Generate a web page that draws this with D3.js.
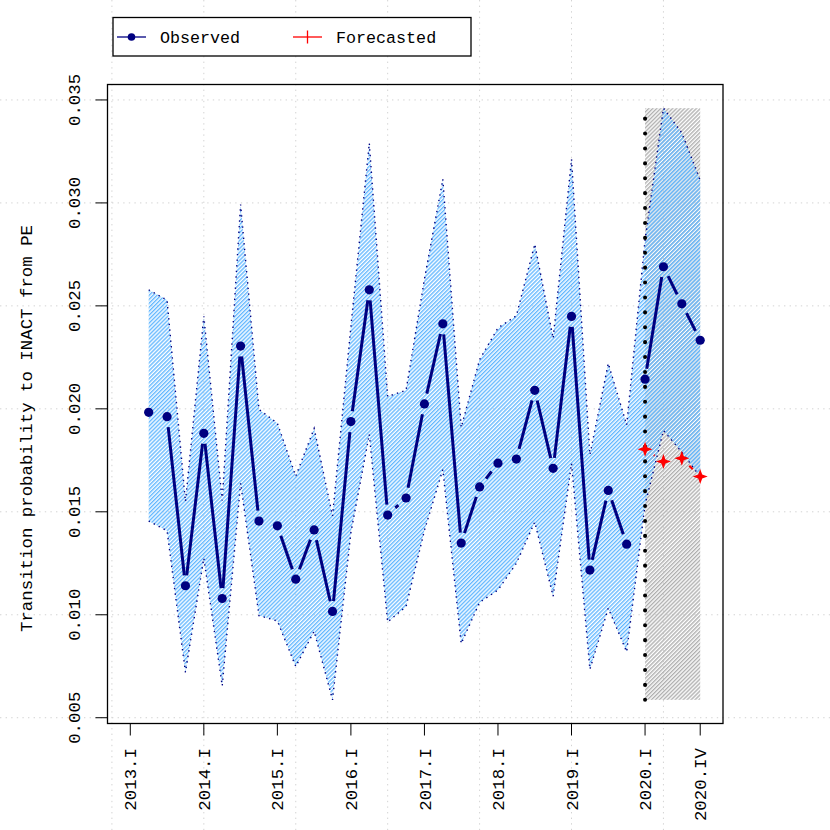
<!DOCTYPE html>
<html>
<head>
<meta charset="utf-8">
<script src="https://cdn.jsdelivr.net/npm/d3@7"></script>
<style>
  body { margin: 0; background: #fff; }
  text { font-family: "Liberation Mono", "Courier New", monospace; font-size: 17.4px; fill: #000; }
  .legend text { font-size: 16.7px; }
</style>
</head>
<body>
<div id="chart"></div>
<script>
// quarters (position = index + 1)
var quarters = ["2013.I","2013.II","2013.III","2013.IV",
                "2014.I","2014.II","2014.III","2014.IV",
                "2015.I","2015.II","2015.III","2015.IV",
                "2016.I","2016.II","2016.III","2016.IV",
                "2017.I","2017.II","2017.III","2017.IV",
                "2018.I","2018.II","2018.III","2018.IV",
                "2019.I","2019.II","2019.III","2019.IV",
                "2020.I","2020.II","2020.III","2020.IV"];
var tickLabels = ["2013.I","2014.I","2015.I","2016.I","2017.I","2018.I","2019.I","2020.I","2020.IV"];
var yTicks = [0.005, 0.010, 0.015, 0.020, 0.025, 0.030, 0.035];
var gridPos = [0, 5, 10, 15, 20, 25, 30];

// confidence band, 2013.II .. 2020.IV
var bandUpper = [0.02578, 0.02528, 0.01550, 0.02449, 0.01555, 0.02992, 0.01997, 0.01930,
                 0.01673, 0.01905, 0.01480, 0.02400, 0.03290, 0.02060, 0.02090, 0.02630,
                 0.03115, 0.01910, 0.02239, 0.02393, 0.02452, 0.02800, 0.02342, 0.03212,
                 0.01777, 0.02221, 0.01922, 0.02820, 0.03460, 0.03340, 0.03110];
var bandLower = [0.01455, 0.01408, 0.00720, 0.01275, 0.00655, 0.01639, 0.00996, 0.00970,
                 0.00749, 0.00920, 0.00587, 0.01400, 0.01876, 0.00965, 0.01040, 0.01410,
                 0.01705, 0.00860, 0.01060, 0.01120, 0.01250, 0.01450, 0.01090, 0.01735,
                 0.00735, 0.01032, 0.00820, 0.01534, 0.01895, 0.01790, 0.01670];

// observed 2013.II .. 2019.IV
var obsValues = [0.01983, 0.01962, 0.01141, 0.01881, 0.01079, 0.02305, 0.01455, 0.01432,
                 0.01173, 0.01412, 0.01016, 0.01938, 0.02578, 0.01484, 0.01567, 0.02024,
                 0.02413, 0.01348, 0.01621, 0.01736, 0.01756, 0.02090, 0.01711, 0.02449,
                 0.01217, 0.01604, 0.01343];
// observed 2020
var obs2020Values = [0.02144, 0.02690, 0.02510, 0.02333];
// forecasted 2020
var fcValues = [0.01804, 0.01744, 0.01760, 0.01671];
// forecast region limits
var fcRegion = [0.00587, 0.03460];

var width = 830, height = 830;
var box = {left: 107.5, right: 723, top: 84.5, bottom: 723.5};

var bandQ = quarters.slice(1);
var obsQ = quarters.slice(1, 28);
var q2020 = quarters.slice(28);

var svg = d3.select("#chart").append("svg")
    .attr("width", width).attr("height", height);

var x = d3.scaleLinear().domain([-0.24, 33.24]).range([box.left, box.right]);
var y = d3.scaleLinear().domain([0.00472, 0.03575]).range([box.bottom, box.top]);
function xq(q) { return x(quarters.indexOf(q) + 1); }

// hatch patterns
var defs = svg.append("defs");
function hatch(id, color) {
  var p = defs.append("pattern").attr("id", id)
      .attr("patternUnits", "userSpaceOnUse")
      .attr("width", 2.8).attr("height", 2.8)
      .attr("patternTransform", "rotate(45)");
  p.append("rect").attr("width", 1.4).attr("height", 2.8).attr("fill", color);
}
hatch("hatchBlue", "#63b8ff");
hatch("hatchGray", "#b0b0b0");

// grid over whole device
svg.append("g").selectAll("line").data(yTicks).enter().append("line")
   .attr("x1", 0).attr("x2", width)
   .attr("y1", function (d) { return y(d); }).attr("y2", function (d) { return y(d); })
   .attr("stroke", "#d3d3d3").attr("stroke-dasharray", "1.4,4.2");
svg.append("g").selectAll("line").data(gridPos).enter().append("line")
   .attr("y1", 0).attr("y2", height)
   .attr("x1", function (d) { return x(d); }).attr("x2", function (d) { return x(d); })
   .attr("stroke", "#d3d3d3").attr("stroke-dasharray", "1.4,4.2");

// forecast region
svg.append("rect")
   .attr("x", xq(q2020[0])).attr("y", y(fcRegion[1]))
   .attr("width", xq(q2020[3]) - xq(q2020[0]))
   .attr("height", y(fcRegion[0]) - y(fcRegion[1]))
   .attr("fill", "url(#hatchGray)");

// band
var area = d3.area()
    .x(function (d, i) { return xq(bandQ[i]); })
    .y0(function (d, i) { return y(bandLower[i]); })
    .y1(function (d, i) { return y(bandUpper[i]); });
svg.append("path").datum(bandQ).attr("d", area).attr("fill", "url(#hatchBlue)");

var bline = d3.line().x(function (d) { return xq(d[0]); }).y(function (d) { return y(d[1]); });
[bandUpper, bandLower].forEach(function (arr) {
  svg.append("path").datum(d3.zip(bandQ, arr)).attr("d", bline)
     .attr("fill", "none").attr("stroke", "#000080").attr("stroke-width", 1.4)
     .attr("stroke-dasharray", "1.4,4.2");
});

// start of forecast
svg.append("line")
   .attr("x1", xq(q2020[0])).attr("x2", xq(q2020[0]))
   .attr("y1", y(fcRegion[0])).attr("y2", y(fcRegion[1]))
   .attr("stroke", "#000").attr("stroke-width", 4)
   .attr("stroke-linecap", "round").attr("stroke-dasharray", "0.1,14.8");

// lines with gaps around the points (type "b")
function gapLines(qs, vals, color, dash) {
  var g = svg.append("g");
  var gap = 10.5;
  for (var i = 1; i < qs.length; i++) {
    var x0 = xq(qs[i - 1]), y0 = y(vals[i - 1]), x1 = xq(qs[i]), y1 = y(vals[i]);
    var len = Math.hypot(x1 - x0, y1 - y0);
    if (len <= 2 * gap) continue;
    var ux = (x1 - x0) / len, uy = (y1 - y0) / len;
    g.append("line")
     .attr("x1", x0 + ux * gap).attr("y1", y0 + uy * gap)
     .attr("x2", x1 - ux * gap).attr("y2", y1 - uy * gap)
     .attr("stroke", color).attr("stroke-width", dash ? 2.2 : 3)
     .attr("stroke-dasharray", dash ? "6,4" : null);
  }
}

gapLines(obsQ, obsValues, "#000080", false);
gapLines(q2020, obs2020Values, "#000080", false);
gapLines(q2020, fcValues, "#ff0000", true);

svg.append("g").selectAll("circle").data(obsValues.concat(obs2020Values)).enter().append("circle")
   .attr("cx", function (d, i) { return xq(obsQ.concat(q2020)[i]); })
   .attr("cy", function (d) { return y(d); })
   .attr("r", 4.6).attr("fill", "#000080");

var star = "M0,-7.5L2,-2L7.5,0L2,2L0,7.5L-2,2L-7.5,0L-2,-2Z";
svg.append("g").selectAll("path").data(fcValues).enter().append("path")
   .attr("d", star)
   .attr("transform", function (d, i) { return "translate(" + xq(q2020[i]) + "," + y(d) + ")"; })
   .attr("fill", "#ff0000");

// axes
var xTicks = svg.append("g");
xTicks.selectAll("line").data(tickLabels).enter().append("line")
   .attr("x1", function (d) { return xq(d); }).attr("x2", function (d) { return xq(d); })
   .attr("y1", box.bottom).attr("y2", box.bottom + 12)
   .attr("stroke", "#000");
xTicks.selectAll("text").data(tickLabels).enter().append("text")
   .attr("x", function (d) { return xq(d); }).attr("y", 748)
   .attr("dy", "0.35em")
   .attr("text-anchor", "end")
   .attr("transform", function (d) { return "rotate(-90," + xq(d) + ",748)"; })
   .text(function (d) { return d; });

var yAx = svg.append("g");
yAx.selectAll("line").data(yTicks).enter().append("line")
   .attr("x1", box.left - 12).attr("x2", box.left)
   .attr("y1", function (d) { return y(d); }).attr("y2", function (d) { return y(d); })
   .attr("stroke", "#000");
yAx.selectAll("text").data(yTicks).enter().append("text")
   .attr("x", 80.5).attr("y", function (d) { return y(d); })
   .attr("text-anchor", "middle")
   .attr("transform", function (d) { return "rotate(-90,80.5," + y(d) + ")"; })
   .text(function (d) { return d3.format(".3f")(d); });

svg.append("text")
   .attr("x", 32).attr("y", 632)
   .attr("text-anchor", "start")
   .attr("transform", "rotate(-90,32,632)")
   .text("Transition probability to INACT from PE");

svg.append("rect")
   .attr("x", box.left).attr("y", box.top)
   .attr("width", box.right - box.left).attr("height", box.bottom - box.top)
   .attr("fill", "none").attr("stroke", "#000").attr("stroke-width", 1.3);

// legend
var leg = svg.append("g").attr("class", "legend");
leg.append("rect").attr("x", 113).attr("y", 17.5).attr("width", 358).attr("height", 38.5)
   .attr("fill", "#fff").attr("stroke", "#000").attr("stroke-width", 1.3);
leg.append("line").attr("x1", 117).attr("x2", 146).attr("y1", 37).attr("y2", 37)
   .attr("stroke", "#000080").attr("stroke-width", 1.3);
leg.append("circle").attr("cx", 131.5).attr("cy", 37).attr("r", 3.8).attr("fill", "#000080");
leg.append("text").attr("x", 160).attr("y", 42.5).text("Observed");
leg.append("line").attr("x1", 293).attr("x2", 322).attr("y1", 37).attr("y2", 37)
   .attr("stroke", "#ff0000").attr("stroke-width", 1.3);
leg.append("line").attr("x1", 307.5).attr("x2", 307.5).attr("y1", 30.5).attr("y2", 43.5)
   .attr("stroke", "#ff0000").attr("stroke-width", 1.3);
leg.append("text").attr("x", 336).attr("y", 42.5).text("Forecasted");
</script>
</body>
</html>
